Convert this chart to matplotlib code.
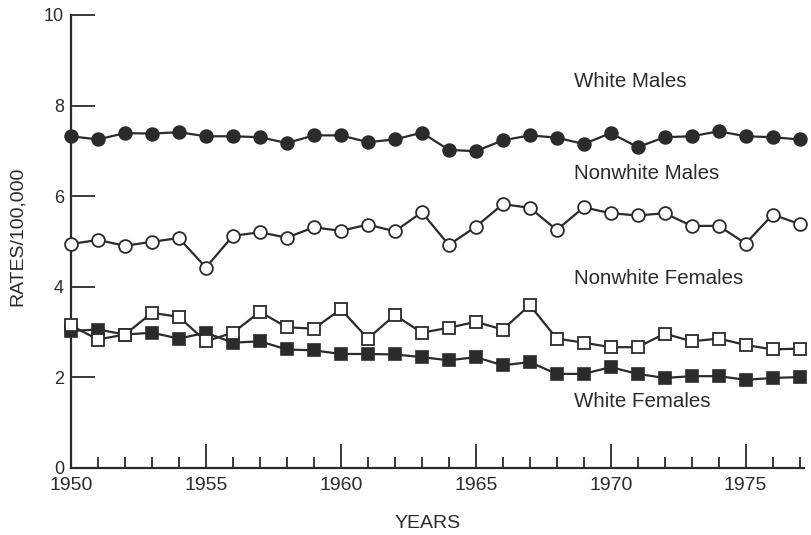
import matplotlib
matplotlib.use("Agg")
import matplotlib.pyplot as plt
from matplotlib.ticker import MultipleLocator

years = list(range(1950, 1978))

white_males = [7.32, 7.25, 7.39, 7.38, 7.41, 7.32, 7.32, 7.30, 7.17, 7.34,
               7.34, 7.19, 7.25, 7.40, 7.02, 6.99, 7.23, 7.34, 7.29, 7.15,
               7.39, 7.08, 7.30, 7.32, 7.43, 7.32, 7.30, 7.25]
nonwhite_males = [4.94, 5.03, 4.90, 4.99, 5.07, 4.42, 5.12, 5.20, 5.08, 5.31,
                  5.23, 5.37, 5.22, 5.64, 4.92, 5.32, 5.82, 5.74, 5.25, 5.75,
                  5.62, 5.57, 5.62, 5.34, 5.34, 4.95, 5.59, 5.38]
nonwhite_females = [3.14, 2.83, 2.94, 3.42, 3.33, 2.79, 2.98, 3.44, 3.10, 3.07,
                    3.50, 2.85, 3.37, 2.98, 3.09, 3.22, 3.05, 3.59, 2.85, 2.76,
                    2.66, 2.66, 2.96, 2.79, 2.85, 2.71, 2.61, 2.63]
white_females = [3.02, 3.05, 2.94, 2.98, 2.85, 2.98, 2.76, 2.79, 2.61, 2.59,
                 2.51, 2.51, 2.50, 2.44, 2.37, 2.44, 2.26, 2.33, 2.07, 2.07,
                 2.22, 2.07, 1.98, 2.02, 2.02, 1.94, 1.98, 2.00]

labels = ["White Males", "Nonwhite Males", "Nonwhite Females", "White Females"]
label_y = [8.54, 6.49, 4.18, 1.46]
label_x = 1968.65

x_ticks = [1950, 1955, 1960, 1965, 1970, 1975]
y_ticks = [0, 2, 4, 6, 8, 10]

ink = "#2b2b2b"
plt.rcParams["font.family"] = ["Liberation Sans", "DejaVu Sans"]

fig = plt.figure(figsize=(8.11, 5.35), dpi=100)
ax = fig.add_axes([0.0875, 0.126, 0.9035, 0.846])

common = dict(color=ink, lw=1.6, clip_on=False, zorder=3)
ax.plot(years, white_males, marker="o", ms=9.2, mfc=ink, mec=ink, mew=1.2, **common)
ax.plot(years, nonwhite_males, marker="o", ms=9.2, mfc="white", mec=ink, mew=1.3, **common)
ax.plot(years, white_females, marker="s", ms=9.0, mfc=ink, mec=ink, mew=1.2, **common)
ax.plot(years, nonwhite_females, marker="s", ms=9.0, mfc="white", mec=ink, mew=1.3, **common)

for lab, yy in zip(labels, label_y):
    ax.text(label_x, yy, lab, fontsize=14.8, color=ink, ha="left", va="center")

ax.set_xlim(1950, 1977.15)
ax.set_ylim(0, 10)
for s in ["top", "right"]:
    ax.spines[s].set_visible(False)
for s in ["left", "bottom"]:
    ax.spines[s].set_color(ink)
    ax.spines[s].set_linewidth(1.6)

ax.set_xticks(x_ticks)
ax.xaxis.set_minor_locator(MultipleLocator(1))
ax.set_yticks(y_ticks)
ax.tick_params(axis="x", which="major", direction="in", length=17, width=1.3,
               color=ink, pad=7, labelsize=14, labelcolor=ink)
ax.tick_params(axis="x", which="minor", direction="in", length=8, width=1.3, color=ink)
ax.tick_params(axis="y", which="major", direction="in", length=17, width=1.3,
               color=ink, pad=5, labelsize=13, labelcolor=ink)

ax.set_xlabel("YEARS", fontsize=14, color=ink)
ax.xaxis.set_label_coords(0.487, -0.105)
ax.set_ylabel("RATES/100,000", fontsize=14, color=ink)
ax.yaxis.set_label_coords(-0.062, 0.51)

fig.savefig("out.png", dpi=100)
